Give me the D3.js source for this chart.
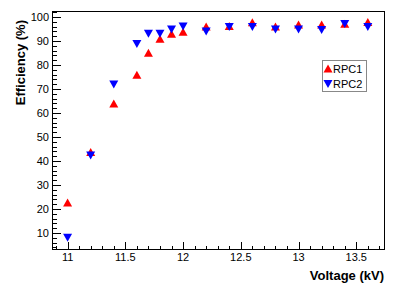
<!DOCTYPE html>
<html><head><meta charset="utf-8">
<script src="https://cdn.jsdelivr.net/npm/d3@7"></script>
<style>body{margin:0;background:#fff}svg{display:block}text{font-family:"Liberation Sans",Arial,sans-serif}</style>
</head><body><svg id="c" width="415" height="298"></svg>
<script>
const voltage = [11.0, 11.2, 11.4, 11.6, 11.7, 11.8, 11.9, 12.0, 12.2, 12.4, 12.6, 12.8, 13.0, 13.2, 13.4, 13.6];
const rpc1 = [22.5, 43.5, 63.7, 75.7, 84.9, 90.7, 92.8, 93.6, 95.8, 96.0, 97.6, 95.8, 96.7, 96.7, 97.0, 97.7];
const rpc2 = [8.2, 42.5, 72.1, 89.0, 93.2, 93.2, 95.0, 96.2, 94.2, 96.0, 96.0, 95.0, 95.0, 94.8, 97.3, 96.0];
const seriesNames = ["RPC1", "RPC2"];
const seriesColors = ["#ff0000", "#0000ff"];
const xMajorTicks = [11, 11.5, 12, 12.5, 13, 13.5];
const yMajorTicks = [10, 20, 30, 40, 50, 60, 70, 80, 90, 100];
const xTitle = "Voltage (kV)";
const yTitle = "Efficiency (%)";

const svg = d3.select("#c");
const L = 52, R = 384, T = 11, B = 249;
const x = d3.scaleLinear().domain([10.865, 13.74]).range([L, R]);
const y = d3.scaleLinear().domain([3.33, 102.5]).range([B, T]);

// frame
svg.append("rect").attr("x", L + 0.5).attr("y", T + 0.5).attr("width", R - L).attr("height", B - T)
  .attr("fill", "none").attr("stroke", "#000").attr("stroke-width", 1);

const g = svg.append("g").attr("shape-rendering", "crispEdges").attr("stroke", "#000");
// x ticks
const xMinor = d3.range(109, 138).map(d => d / 10);
xMinor.forEach(v => {
  const major = xMajorTicks.some(t => Math.abs(t - v) < 1e-6);
  const px = Math.round(x(v)) + 0.5;
  g.append("line").attr("x1", px).attr("x2", px).attr("y1", B).attr("y2", B - (major ? 7 : 3.5));
});
// y ticks
const yMinor = d3.range(4, 103, 2);
yMinor.forEach(v => {
  const major = v % 10 === 0;
  const py = Math.round(y(v)) + 0.5;
  g.append("line").attr("x1", L).attr("x2", L + (major ? 9 : 4.5)).attr("y1", py).attr("y2", py);
});

// tick labels
svg.append("g").selectAll("text").data(xMajorTicks).join("text")
  .attr("x", d => x(d)).attr("y", 261).attr("text-anchor", "middle")
  .attr("font-size", 11).text(d => d);
svg.append("g").selectAll("text").data(yMajorTicks).join("text")
  .attr("x", 49).attr("y", d => y(d) + 4).attr("text-anchor", "end")
  .attr("font-size", 11).text(d => d);

// titles
svg.append("text").attr("x", R).attr("y", 280).attr("text-anchor", "end")
  .attr("font-size", 13).attr("font-weight", "bold").text(xTitle);
svg.append("text").attr("transform", `translate(25,${T + 9}) rotate(-90)`).attr("text-anchor", "end")
  .attr("font-size", 13).attr("font-weight", "bold").text(yTitle);

const up = "M0,-4.5L4.5,3.5L-4.5,3.5Z";
const down = "M0,4.5L4.5,-3.5L-4.5,-3.5Z";

// points
const pts = svg.append("g");
pts.selectAll("path.r1").data(voltage.map((v, i) => [v, rpc1[i]])).join("path")
  .attr("class", "r1").attr("d", up).attr("fill", seriesColors[0])
  .attr("transform", d => `translate(${x(d[0])},${y(d[1])})`);
pts.selectAll("path.r2").data(voltage.map((v, i) => [v, rpc2[i]])).join("path")
  .attr("class", "r2").attr("d", down).attr("fill", seriesColors[1])
  .attr("transform", d => `translate(${x(d[0])},${y(d[1])})`);

// legend
const lg = svg.append("g");
lg.append("rect").attr("x", 322.5).attr("y", 60.5).attr("width", 44).attr("height", 31)
  .attr("fill", "#fff").attr("stroke", "#888").attr("stroke-width", 1);
seriesNames.forEach((n, i) => {
  const cy = 69 + i * 14.5;
  lg.append("path").attr("d", i === 0 ? up : down).attr("fill", seriesColors[i])
    .attr("transform", `translate(328,${cy})`);
  lg.append("text").attr("x", 333).attr("y", cy + 4).attr("font-size", 11).text(n);
});
</script></body></html>
